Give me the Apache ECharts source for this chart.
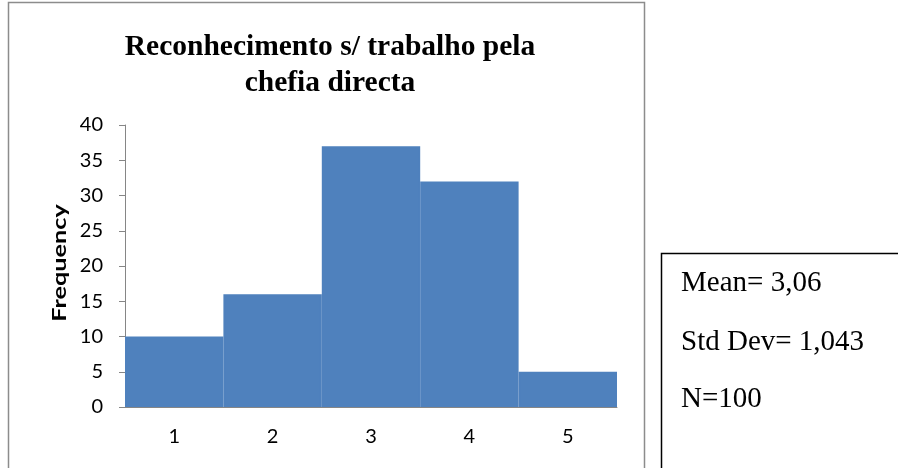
<!DOCTYPE html>
<html><head><meta charset="utf-8">
<script src="https://cdn.jsdelivr.net/npm/echarts@6/dist/echarts.min.js"></script>
<style>html,body{margin:0;padding:0;background:#fff}#c{width:898px;height:468px}</style>
</head><body><div id="c"></div>
<script>
const categories = ['1','2','3','4','5'];
const frequencies = [10, 16, 37, 32, 5];
const titleLines = ['Reconhecimento s/ trabalho pela', 'chefia directa'];
const yAxisTitle = 'Frequency';
const statsLines = ['Mean= 3,06', 'Std Dev= 1,043', 'N=100'];
const yTicks = {min: 0, max: 40, interval: 5};

const chart = echarts.init(document.getElementById('c'), null, {renderer: 'canvas'});
chart.setOption({
  animation: false,
  backgroundColor: '#fff',
  title: {
    text: titleLines.join('\n'),
    left: 325, top: 24, textAlign: 'center',
    textStyle: {fontFamily: 'Liberation Serif', fontWeight: 'bold', fontSize: 29.5, lineHeight: 36, color: '#000'}
  },
  grid: {left: 125, right: 281, top: 125, bottom: 61},
  xAxis: {
    type: 'category', data: categories,
    axisLine: {lineStyle: {color: '#868686', width: 1}},
    axisTick: {show: false},
    axisLabel: {fontFamily: 'Lato', fontSize: 20, color: '#000', margin: 20}
  },
  yAxis: {
    type: 'value', min: yTicks.min, max: yTicks.max, interval: yTicks.interval,
    axisLine: {show: true, lineStyle: {color: '#868686', width: 1}},
    axisTick: {show: true, length: 6, lineStyle: {color: '#868686'}},
    splitLine: {show: false},
    axisLabel: {fontFamily: 'Lato', fontSize: 20, color: '#000', margin: 22}
  },
  series: [{
    type: 'bar', data: frequencies, barWidth: '100%', barCategoryGap: '0%',
    itemStyle: {color: '#4F81BD', borderColor: '#4F81BD', borderWidth: 2}
  }],
  graphic: [
    {type: 'rect', shape: {x: 8.5, y: 2.5, width: 636, height: 500}, style: {fill: 'none', stroke: '#8c8c8c', lineWidth: 1.5}, z: -1},
    {type: 'text', x: 60, y: 263, rotation: Math.PI / 2, scaleX: 1.4, scaleY: 1,
     style: {text: yAxisTitle, font: 'bold 18px Lato', fill: '#000', align: 'center', verticalAlign: 'middle'}},
    {type: 'rect', shape: {x: 661.5, y: 253.5, width: 260, height: 260}, style: {fill: '#fff', stroke: '#000', lineWidth: 1.5}},
    {type: 'text', left: 681, top: 269, style: {text: statsLines[0], font: '29px "Liberation Serif"', fill: '#000'}},
    {type: 'text', left: 681, top: 328, style: {text: statsLines[1], font: '29px "Liberation Serif"', fill: '#000'}},
    {type: 'text', left: 681, top: 385, style: {text: statsLines[2], font: '29px "Liberation Serif"', fill: '#000'}}
  ]
});
</script></body></html>
